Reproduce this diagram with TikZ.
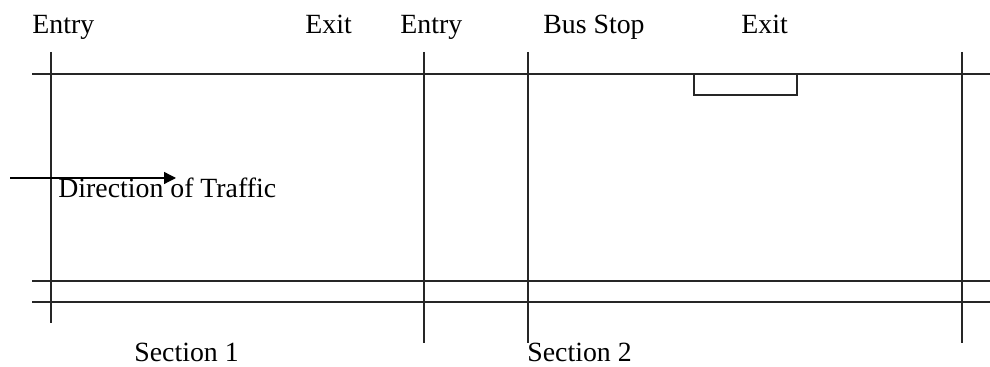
\documentclass[tikz,border=0pt]{standalone}
\usepackage{fontspec}
\setmainfont{Liberation Serif}
\usetikzlibrary{arrows.meta}
\begin{document}
\begin{tikzpicture}[x=0.5pt,y=-0.5pt,
  road/.style={line width=0.65pt,draw=black!85},
  lbl/.style={anchor=base west,inner sep=0pt,font=\fontsize{13.9}{16}\selectfont}]
\useasboundingbox (0,0) rectangle (990,367);
% labels
\node[lbl] (entry1) at (32,34) {Entry};
\node[lbl] (exit1) at (305,34) {Exit};
\node[lbl] (entry2) at (400,34) {Entry};
\node[lbl] (bus) at (543,34) {Bus Stop};
\node[lbl] (exit2) at (741,34) {Exit};
\node[lbl] (dir) at (58,198) {Direction of Traffic};
\node[lbl] (sec1) at (134,362) {Section 1};
\node[lbl] (sec2) at (527,362) {Section 2};
% coordinates
\coordinate (t1) at (32,74);  \coordinate (t2) at (990,74);
\coordinate (m1) at (32,281); \coordinate (m2) at (990,281);
\coordinate (b1) at (32,302); \coordinate (b2) at (990,302);
\coordinate (v1a) at (51,52);  \coordinate (v1b) at (51,323);
\coordinate (v2a) at (424,52); \coordinate (v2b) at (424,343);
\coordinate (v3a) at (528,52); \coordinate (v3b) at (528,343);
\coordinate (v4a) at (962,52); \coordinate (v4b) at (962,343);
\coordinate (bs1) at (694,74); \coordinate (bs2) at (797,95);
\coordinate (a1) at (10,178); \coordinate (a2) at (176,178);
% lines
\draw[road] (t1) -- (t2);
\draw[road] (m1) -- (m2);
\draw[road] (b1) -- (b2);
\draw[road] (v1a) -- (v1b);
\draw[road] (v2a) -- (v2b);
\draw[road] (v3a) -- (v3b);
\draw[road] (v4a) -- (v4b);
\draw[road] (bs1) |- (bs2) -- (bs2 |- bs1);
\draw[road,draw=black,-{Triangle[length=6pt,width=6pt]}] (a1) -- (a2);
\end{tikzpicture}
\end{document}
